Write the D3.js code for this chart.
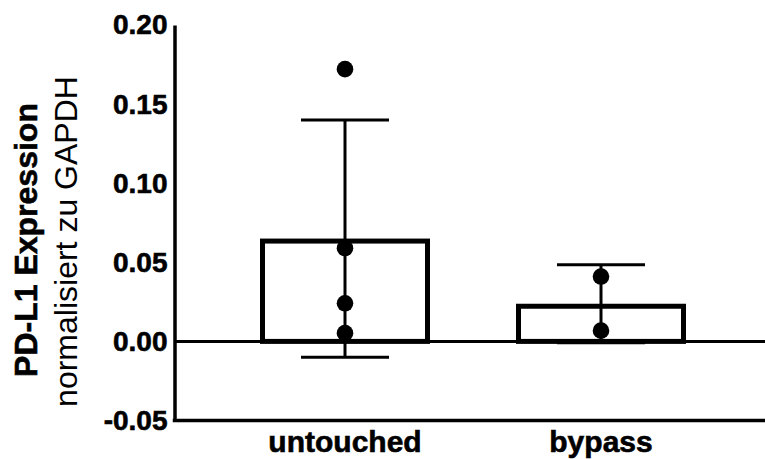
<!DOCTYPE html>
<html><head><meta charset="utf-8">
<script src="https://cdn.jsdelivr.net/npm/d3@7"></script>
<style>body{margin:0;background:#fff}svg{display:block}</style>
</head><body>
<svg id="c" width="765" height="459"></svg>
<script>
const categories = ["untouched", "bypass"];
const means = [0.065, 0.0238];
const sds = [0.075, 0.0246];
const points = [[0.1721, 0.0589, 0.0241, 0.0052], [0.0410, 0.0068]];
const yTicks = [-0.05, 0.00, 0.05, 0.10, 0.15, 0.20];
const yLabelBold = "PD-L1 Expression";
const yLabelRegular = "normalisiert zu GAPDH";

const svg = d3.select("#c");
const font = "'Liberation Sans', Arial, sans-serif";
const y = d3.scaleLinear().domain([-0.05, 0.20]).range([420.5, 25]);
const x = d3.scalePoint().domain(categories).range([345, 601]);
const axisX = 174.5, rightX = 765;
const barW = 170, barStroke = 5, capW = 88;

// zero line
svg.append("line").attr("x1", axisX).attr("x2", rightX).attr("y1", y(0)).attr("y2", y(0))
  .attr("stroke", "#000").attr("stroke-width", 3);

// bars (stroke inset)
categories.forEach((c, i) => {
  const top = y(means[i]), bot = y(0);
  svg.append("rect")
    .attr("x", x(c) - barW/2 + barStroke/2)
    .attr("y", top + barStroke/2)
    .attr("width", barW - barStroke)
    .attr("height", bot - top - barStroke/2)
    .attr("fill", "#fff").attr("stroke", "#000").attr("stroke-width", barStroke);
});

// error bars
categories.forEach((c, i) => {
  const hi = y(means[i] + sds[i]), lo = y(means[i] - sds[i]);
  const g = svg.append("g").attr("stroke", "#000").attr("stroke-width", 3);
  g.append("line").attr("x1", x(c)).attr("x2", x(c)).attr("y1", hi).attr("y2", lo);
  g.append("line").attr("x1", x(c) - capW/2).attr("x2", x(c) + capW/2).attr("y1", hi).attr("y2", hi);
  g.append("line").attr("x1", x(c) - capW/2).attr("x2", x(c) + capW/2).attr("y1", lo).attr("y2", lo);
});

// points
categories.forEach((c, i) => {
  svg.selectAll(null).data(points[i]).enter().append("circle")
    .attr("cx", x(c)).attr("cy", d => y(d)).attr("r", 8.3).attr("fill", "#000");
});

// y axis
const fmt = d3.format(".2f");
const yAxis = d3.axisLeft(y).tickValues(yTicks).tickFormat(d => fmt(d).replace("\u2212", "-")).tickSize(0).tickPadding(7);
const ga = svg.append("g").attr("transform", `translate(${axisX},0)`).call(yAxis);
ga.select(".domain").attr("stroke", "#000").attr("stroke-width", 3.5);
ga.selectAll("text").attr("font-family", font).attr("font-weight", "bold").attr("font-size", 28)
  .attr("fill", "#000").attr("stroke", "#000").attr("stroke-width", 0.6);

// bottom axis line
svg.append("line").attr("x1", axisX - 1.75).attr("x2", rightX).attr("y1", y(-0.05)).attr("y2", y(-0.05))
  .attr("stroke", "#000").attr("stroke-width", 3.5);

// x labels
svg.selectAll(null).data(categories).enter().append("text")
  .attr("x", d => x(d)).attr("y", 452).attr("text-anchor", "middle")
  .attr("font-family", font).attr("font-weight", "bold").attr("font-size", 30)
  .attr("stroke", "#000").attr("stroke-width", 0.6).text(d => d);

// y label
svg.append("text").attr("transform", "translate(37,240) rotate(-90)").attr("text-anchor", "middle")
  .attr("font-family", font).attr("font-weight", "bold").attr("font-size", 32)
  .attr("stroke", "#000").attr("stroke-width", 0.6).text(yLabelBold);
svg.append("text").attr("transform", "translate(77,241.5) rotate(-90)").attr("text-anchor", "middle")
  .attr("font-family", font).attr("font-size", 32).text(yLabelRegular);
</script>
</body></html>
